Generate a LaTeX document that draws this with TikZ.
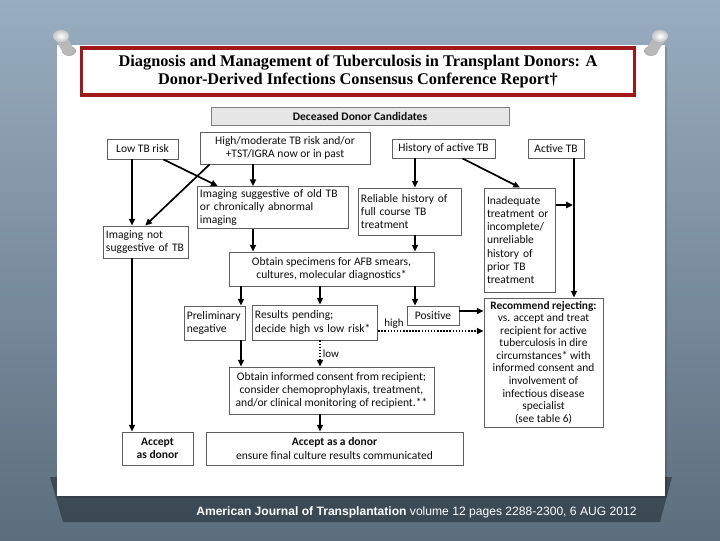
\documentclass[tikz,border=0pt]{standalone}
\usepackage{fontspec}
\setmainfont{Carlito}
\newfontfamily\titlefont{Liberation Serif}
\newfontfamily\capfont{Liberation Sans}
\usepackage{tikz}
\usetikzlibrary{arrows.meta, positioning}
\definecolor{slidetop}{HTML}{98ADBF}
\definecolor{slidebot}{HTML}{5A6E7E}
\definecolor{bandgray}{HTML}{36434E}
\definecolor{titlered}{HTML}{A01818}
\definecolor{boxline}{HTML}{5F5F5F}
\definecolor{headgray}{HTML}{E6E6E6}

\begin{document}
\begin{tikzpicture}[x=0.025cm, y=-0.025cm,
  box/.style={draw=boxline, line width=0.6pt, fill=white, text=black!95, align=center,
              inner sep=2pt, font=\fontsize{8.2}{9.4}\selectfont},
  lbox/.style={box, align=left},
  link/.style={line width=1.2pt, -{Triangle[length=1.7mm, width=1.5mm]}},
  dotlink/.style={link, dash pattern=on 1.1pt off 1.1pt},
  tag/.style={font=\fontsize{7.8}{9}\selectfont, text=black!95, inner sep=1.5pt}
]
% slide
\useasboundingbox (0,0) rectangle (720,540);
\shade[top color=slidetop, bottom color=slidebot] (0,0) rectangle (720,540);
\fill[bandgray, opacity=0.85] (50,477) -- (672,477) -- (660,522) -- (63,522) -- cycle;
\fill[black, opacity=0.15] (59,47) rectangle (667,498);
\fill[white] (57,45) rectangle (665,496);

% pins
\fill[black, opacity=0.3] (69,51) ellipse (7 and 5);
\draw[gray!55, line width=0.28cm, line cap=round] (61,38) -- (68,50);
\shade[inner color=white, outer color=gray!45] (61,36) ellipse (8 and 6);
\fill[black, opacity=0.3] (651,51) ellipse (7 and 5);
\draw[gray!55, line width=0.28cm, line cap=round] (660,38) -- (652,50);
\shade[inner color=white, outer color=gray!45] (660,36) ellipse (8 and 6);

\node[draw=titlered, line width=2.2pt, fill=white, minimum width=13.8cm, minimum height=1.175cm,
      align=center, font=\titlefont\bfseries\fontsize{11.6}{12.8}\selectfont] (title) at (358,71.5)
      {Diagnosis and Management of Tuberculosis in Transplant Donors: A\\
       Donor-Derived Infections Consensus Conference Report\textdagger};

% flow chart
\node[box, fill=headgray, draw=gray, minimum width=7.45cm, minimum height=0.45cm,
      font=\bfseries\fontsize{8.2}{9.4}\selectfont] (head) at (360,116) {Deceased Donor Candidates};
\node[box, minimum width=1.775cm, minimum height=0.5cm] (lowrisk) at (142.5,149) {Low TB risk};
\node[box, minimum width=4.25cm, minimum height=0.8cm] (highrisk) at (285,148)
     {High/moderate TB risk and/or\\+TST/IGRA now or in past};
\node[box, minimum width=2.575cm, minimum height=0.475cm] (histactive) at (443.5,148.5) {History of active TB};
\node[box, minimum width=1.4cm, minimum height=0.475cm] (activetb) at (556,148.5) {Active TB};
\node[lbox, text width=3.65cm, minimum height=0.975cm] (imgold) at (273,207.5)
     {Imaging suggestive of old TB\\or chronically abnormal\\imaging};
\node[lbox, text width=2.45cm, minimum height=1.175cm] (reliable) at (410,211.5)
     {Reliable history of\\full course TB\\treatment};
\node[lbox, text width=1.65cm, minimum height=2.6cm] (inadequate) at (520,240)
     {Inadequate\\treatment or\\incomplete/\\unreliable\\history of\\prior TB\\treatment};
\node[lbox, text width=2.0cm, minimum height=0.8cm] (imgnot) at (146,242)
     {Imaging not\\suggestive of TB};
\node[box, minimum width=5.125cm, minimum height=0.85cm] (specimens) at (331.5,269)
     {Obtain specimens for AFB smears,\\cultures, molecular diagnostics*};
\node[lbox, text width=1.38cm, minimum height=0.85cm] (prelim) at (214.5,323)
     {Preliminary\\negative};
\node[lbox, text width=3.0cm, minimum height=0.875cm] (pending) at (315,322.5)
     {Results pending;\\decide high vs low risk*};
\node[box, minimum width=1.3cm, minimum height=0.475cm] (positive) at (433,315.5) {Positive};
\node[box, minimum width=2.975cm, minimum height=3.225cm, font=\fontsize{8.1}{8.9}\selectfont] (reject) at (543.5,362.5)
     {\textbf{Recommend rejecting:}\\vs. accept and treat\\recipient for active\\tuberculosis in dire\\
      circumstances* with\\informed consent and\\involvement of\\infectious disease\\specialist\\(see table 6)};
\node[box, minimum width=5.125cm, minimum height=1.175cm] (consent) at (331.5,390.5)
     {Obtain informed consent from recipient;\\consider chemoprophylaxis, treatment,\\
      and/or clinical monitoring of recipient.**};
\node[box, minimum width=1.775cm, minimum height=0.825cm] (acceptL) at (157.5,448.5)
     {\textbf{Accept}\\\textbf{as donor}};
\node[box, minimum width=6.425cm, minimum height=0.825cm] (acceptR) at (334.5,448.5)
     {\textbf{Accept as a donor}\\ensure final culture results communicated};

\coordinate (colA) at (132,0);
\coordinate (colB) at (253,0);
\coordinate (colC) at (241,0);
\coordinate (colD) at (320,0);
\coordinate (colE) at (415,0);
\coordinate (colF) at (574,0);
\coordinate (joinrej) at (573,205);
\coordinate (rowpos) at (0,311);
\coordinate (rowhigh) at (0,331);

\draw[link] (lowrisk.south -| colA) -- (imgnot.north -| colA);
\draw[link] (imgnot.south -| colA) -- (acceptL.north -| colA);
\draw[link] ([xshift=-0.375cm]lowrisk.south east) -- ([xshift=0.525cm]imgold.north west);
\draw[link] ([xshift=0.25cm]highrisk.south west) -- ([xshift=-1.1cm]imgnot.north east);
\draw[link] (highrisk.south -| colB) -- (imgold.north -| colB);
\draw[link] (imgold.south -| colB) -- (specimens.north -| colB);
\draw[link] (histactive.south -| colE) -- (reliable.north -| colE);
\draw[link] (reliable.south -| colE) -- (specimens.north -| colE);
\draw[link] ([xshift=-0.825cm]histactive.south east) -- (inadequate.north);
\draw[link] (inadequate.east |- joinrej) -- (joinrej);
\draw[link] (activetb.south -| colF) -- (reject.north -| colF);
\draw[link] (specimens.south -| colC) -- (prelim.north -| colC);
\draw[link] (specimens.south -| colD) -- (pending.north -| colD);
\draw[link] (specimens.south -| colE) -- (positive.north -| colE);
\draw[link] (positive.east |- rowpos) -- (reject.west |- rowpos);
\draw[dotlink] (pending.east |- rowhigh) -- node[tag, pos=0.15, above] {high} (reject.west |- rowhigh);
\draw[link] (prelim.south -| colC) -- (consent.north -| colC);
\draw[dotlink] (pending.south -| colD) -- node[tag, right] {low} (consent.north -| colD);
\draw[link] (consent.south -| colD) -- (acceptR.north -| colD);

\node[anchor=west, text=white, inner sep=0, font=\capfont\fontsize{8.6}{10}\selectfont] (cite) at (196,512)
     {\textbf{American Journal of Transplantation} volume 12 pages 2288-2300, 6 AUG 2012};
\end{tikzpicture}
\end{document}
